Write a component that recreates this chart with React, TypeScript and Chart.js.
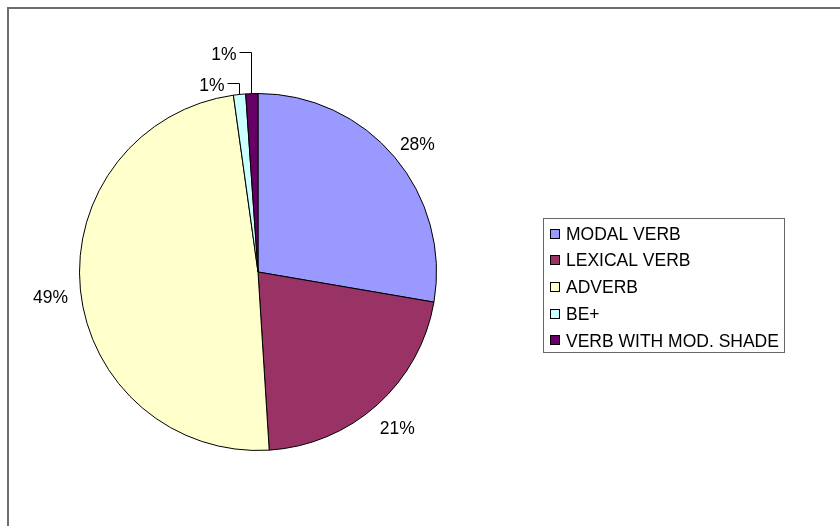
import React, { useEffect, useRef } from "react";
import { Chart, registerables } from "chart.js";

Chart.register(...registerables);

const categories = ["MODAL VERB", "LEXICAL VERB", "ADVERB", "BE+", "VERB WITH MOD. SHADE"];
const shares = [27.7, 21.3, 48.8, 1.1, 1.1];
const percentLabels = ["28%", "21%", "49%", "1%", "1%"];
const sliceColors = ["#9999FF", "#993366", "#FFFFCC", "#CCFFFF", "#660066"];

const FONT_SIZE = 17.5;
const FONT = `${FONT_SIZE}px "Liberation Sans", Arial, sans-serif`;
const CAP_HALF = FONT_SIZE * 0.358;

const framePlugin = {
  id: "frame",
  beforeDraw(chart: any) {
    const ctx = chart.ctx;
    ctx.save();
    ctx.fillStyle = "#ffffff";
    ctx.fillRect(0, 0, chart.width, chart.height);
    ctx.strokeStyle = "#6e6e6e";
    ctx.lineWidth = 2;
    ctx.beginPath();
    ctx.moveTo(8, chart.height);
    ctx.lineTo(8, 8);
    ctx.lineTo(chart.width, 8);
    ctx.stroke();
    ctx.restore();
  },
};

const labelPlugin = {
  id: "pieLabels",
  afterDatasetsDraw(chart: any) {
    const ctx = chart.ctx;
    const meta = chart.getDatasetMeta(0);
    ctx.save();
    ctx.font = FONT;
    ctx.fillStyle = "#000";
    ctx.strokeStyle = "#000";
    ctx.lineWidth = 1;
    ctx.textBaseline = "alphabetic";
    let smallIndex = 0;
    meta.data.forEach((arc: any, i: number) => {
      const p = arc.getProps(["x", "y", "startAngle", "endAngle", "outerRadius"], true);
      const mid = (p.startAngle + p.endAngle) / 2;
      const r = p.outerRadius;
      const text = percentLabels[i];
      if (shares[i] < 3) {
        const ax = p.x + r * Math.cos(mid);
        const ay = p.y + r * Math.sin(mid);
        const ly = Math.round(p.y - r - 11 - 31 * smallIndex) + 0.5;
        const lx = Math.round(ax) - 0.5;
        ctx.beginPath();
        ctx.moveTo(lx, ay);
        ctx.lineTo(lx, ly);
        ctx.lineTo(lx - 12, ly);
        ctx.stroke();
        ctx.textAlign = "right";
        ctx.fillText(text, lx - 15, ly + 1 + CAP_HALF);
        smallIndex++;
      } else {
        const c = Math.cos(mid);
        const s = Math.sin(mid);
        const cx = p.x + (r + 30) * c;
        const cy = p.y + (r + 26) * s + 4;
        ctx.textAlign = "center";
        ctx.fillText(text, cx, cy + CAP_HALF);
      }
    });
    ctx.restore();
  },
};

const legendPlugin = {
  id: "boxLegend",
  afterDraw(chart: any) {
    const ctx = chart.ctx;
    const left = 543;
    const top = 218;
    const width = 241;
    const height = 134;
    ctx.save();
    ctx.strokeStyle = "#666";
    ctx.lineWidth = 1;
    ctx.strokeRect(left + 0.5, top + 0.5, width, height);
    ctx.font = FONT;
    ctx.textBaseline = "alphabetic";
    ctx.textAlign = "left";
    categories.forEach((name, i) => {
      const cy = top + 15.5 + i * 26.7;
      ctx.fillStyle = sliceColors[i];
      ctx.fillRect(550, Math.round(cy - 5), 10, 10);
      ctx.strokeStyle = "#000";
      ctx.strokeRect(550.5, Math.round(cy - 5) + 0.5, 9, 9);
      ctx.fillStyle = "#000";
      ctx.fillText(name, 566, cy + CAP_HALF);
    });
    ctx.restore();
  },
};

export default function App() {
  const canvasRef = useRef<HTMLCanvasElement | null>(null);

  useEffect(() => {
    const canvas = canvasRef.current;
    if (!canvas) return;
    const chart = new Chart(canvas, {
      type: "pie",
      data: {
        labels: categories,
        datasets: [
          {
            data: shares,
            backgroundColor: sliceColors,
            borderColor: "#000",
            borderWidth: 1,
            hoverOffset: 0,
            offset: 0,
          },
        ],
      },
      options: {
        responsive: false,
        animation: false,
        events: [],
        layout: { padding: { left: 79, right: 403, top: 93, bottom: 75 } },
        plugins: {
          legend: { display: false },
          tooltip: { enabled: false },
        },
      },
      plugins: [framePlugin, labelPlugin, legendPlugin],
    });
    return () => chart.destroy();
  }, []);

  return (
    <div style={{ position: "fixed", left: 0, top: 0, width: 840, height: 526 }}>
      <canvas ref={canvasRef} width={840} height={526} style={{ display: "block" }} />
    </div>
  );
}
